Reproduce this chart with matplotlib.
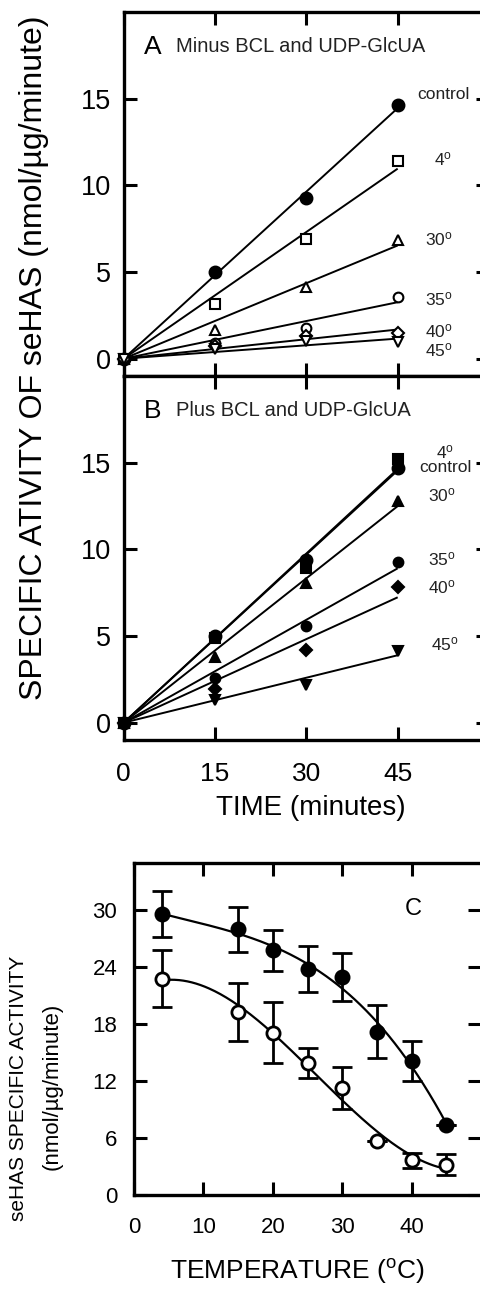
import numpy as np
import matplotlib
matplotlib.use("Agg")
import matplotlib.pyplot as plt

plt.rcParams["font.family"] = ["Liberation Sans", "DejaVu Sans"]
plt.rcParams["mathtext.fontset"] = "custom"
plt.rcParams["mathtext.rm"] = "Liberation Sans"
plt.rcParams["mathtext.it"] = "Liberation Sans:italic"

# ---- time course data (nmol/ug/minute) ----
time_min = [0, 15, 30, 45]
time_ticks = [0, 15, 30, 45]
activity_ticks = [0, 5, 10, 15]

# A: minus BCL and UDP-GlcUA
a_control = [0, 5.0, 9.25, 14.65]
a_4 = [0, 3.16, 6.9, 11.4]
a_30 = [0, 1.65, 4.14, 6.85]
a_35 = [0, 0.9, 1.78, 3.58]
a_40 = [0, 0.75, 1.3, 1.5]
a_45 = [0, 0.55, 1.0, 0.95]

# B: plus BCL and UDP-GlcUA
b_control = [0, 5.0, 9.4, 14.7]
b_4 = [0, 4.9, 8.9, 15.2]
b_30 = [0, 3.8, 8.05, 12.8]
b_35 = [0, 2.6, 5.6, 9.25]
b_40 = [0, 1.95, 4.2, 7.8]
b_45 = [0, 1.3, 2.2, 4.15]

# ---- temperature dependence (C) ----
temp_c = [4, 15, 20, 25, 30, 35, 40, 45]
plus_mean = [29.6, 28.0, 25.8, 23.8, 23.0, 17.2, 14.1, 7.4]
plus_err = [2.45, 2.35, 2.15, 2.4, 2.55, 2.8, 2.1, 0.0]
minus_mean = [22.8, 19.3, 17.1, 13.9, 11.25, 5.65, 3.65, 3.2]
minus_err = [3.0, 3.1, 3.2, 1.6, 2.2, 0.0, 0.8, 1.1]
temp_ticks = [0, 10, 20, 30, 40]
spec_ticks = [0, 6, 12, 18, 24, 30]

W, H = 480, 1300
fig = plt.figure(figsize=(W / 100, H / 100), dpi=100)


def px_axes(left, top, right, bottom):
    return fig.add_axes([left / W, 1 - bottom / H, (right - left) / W, (bottom - top) / H])


def style_axes(ax, spine_w=2.4):
    for side in ("left", "top", "bottom"):
        ax.spines[side].set_linewidth(spine_w)
    ax.spines["right"].set_visible(False)
    ax.tick_params(direction="in", length=9.5, width=2.2, top=True, right=True,
                   colors="black")


def deg(t):
    return t + r"$^{\rm o}$"


def fit_through_origin(x, y):
    x = np.asarray(x, float)
    y = np.asarray(y, float)
    return np.sum(x * y) / np.sum(x * x)


def time_panel(ax, data, markers, filled, sizes, labels, letter, title, bottom_labels):
    xs = np.asarray(time_min, float)
    for y in data:
        k = fit_through_origin(xs, y)
        ax.plot([xs[0], xs[-1]], [k * xs[0], k * xs[-1]], color="black", lw=1.4,
                zorder=2, solid_capstyle="butt")
    for y, m, f, s in zip(data, markers, filled, sizes):
        ax.plot(xs, y, linestyle="none", marker=m, ms=s,
                mfc="black" if f else "white", mec="black", mew=1.5,
                zorder=3, clip_on=False)
    ax.set_xlim(0, 60)
    ax.set_ylim(-1, 20)
    ax.set_xticks(time_ticks)
    ax.set_yticks(activity_ticks)
    style_axes(ax)
    ax.tick_params(axis="y", labelsize=19.5, pad=9)
    ax.tick_params(axis="x", labelsize=19, pad=16, labelbottom=bottom_labels)
    ax.text(0.055, 0.905, letter, transform=ax.transAxes, fontsize=19,
            ha="left", va="center")
    ax.text(0.143, 0.905, title, transform=ax.transAxes, fontsize=14.5,
            ha="left", va="center", color="#222222")
    for txt, (lx, ly) in labels:
        ax.text(lx, ly, txt, fontsize=12.5, ha="center", va="center", color="#222222")


# Panel A
ax_a = px_axes(123.7, 12, 489, 376)
time_panel(
    ax_a,
    [a_control, a_4, a_30, a_35, a_40, a_45],
    ["o", "s", "^", "o", "D", "v"],
    [True, False, False, False, False, False],
    [8.5, 6.5, 7, 7, 6, 7],
    [("control", (52.5, 15.25)), (deg("4"), (52.5, 11.5)), (deg("30"), (51.8, 6.9)),
     (deg("35"), (51.8, 3.45)), (deg("40"), (51.8, 1.6)), (deg("45"), (51.8, 0.5))],
    "A", "Minus BCL and UDP-GlcUA", False,
)

# Panel B
ax_b = px_axes(123.7, 376, 489, 740)
time_panel(
    ax_b,
    [b_control, b_4, b_30, b_35, b_40, b_45],
    ["o", "s", "^", "o", "D", "v"],
    [True, True, True, True, True, True],
    [8.5, 7, 7.5, 7, 6.5, 7.5],
    [(deg("4"), (52.8, 15.6)), ("control", (52.8, 14.7)), (deg("30"), (52.3, 13.1)),
     (deg("35"), (52.3, 9.4)), (deg("40"), (52.3, 7.8)), (deg("45"), (52.8, 4.5))],
    "B", "Plus BCL and UDP-GlcUA", True,
)

fig.text(34 / W, 1 - 358 / H, "SPECIFIC ATIVITY OF seHAS (nmol/\u00b5g/minute)",
         rotation=90, ha="center", va="center", fontsize=23)
fig.text(311 / W, 1 - 808 / H, "TIME (minutes)", ha="center", va="center", fontsize=20)

# Panel C
ax_c = px_axes(134, 863, 481, 1195)
tt = np.asarray(temp_c, float)
grid = np.linspace(tt[0], tt[-1], 200)
for mean, err, face in ((plus_mean, plus_err, "black"), (minus_mean, minus_err, "white")):
    coef = np.polyfit(tt, mean, 3)
    ax_c.plot(grid, np.polyval(coef, grid), color="black", lw=1.6, zorder=2)
    ax_c.errorbar(tt, mean, yerr=err, fmt="none", ecolor="black", elinewidth=2.0,
                  capsize=7.5, capthick=2.0, zorder=3)
    ax_c.plot(tt, mean, linestyle="none", marker="o", ms=9.5, mfc=face, mec="black",
              mew=2.0, zorder=4, clip_on=False)
ax_c.set_xlim(0, 50)
ax_c.set_ylim(0, 35)
ax_c.set_xticks(temp_ticks)
ax_c.set_yticks(spec_ticks)
style_axes(ax_c)
ax_c.tick_params(axis="y", labelsize=16, pad=12)
ax_c.tick_params(axis="x", labelsize=16, pad=15.5)
ax_c.text(40.3, 30.2, "C", fontsize=17, ha="center", va="center")

fig.text(19 / W, 1 - 1088 / H, "seHAS SPECIFIC ACTIVITY", rotation=90,
         ha="center", va="center", fontsize=15)
fig.text(52 / W, 1 - 1086 / H, "(nmol/\u00b5g/minute)", rotation=90,
         ha="center", va="center", fontsize=16)
fig.text(297 / W, 1 - 1271 / H, r"TEMPERATURE ($^{\rm o}$C)", ha="center",
         va="center", fontsize=19)

fig.savefig("out.png", dpi=100)
